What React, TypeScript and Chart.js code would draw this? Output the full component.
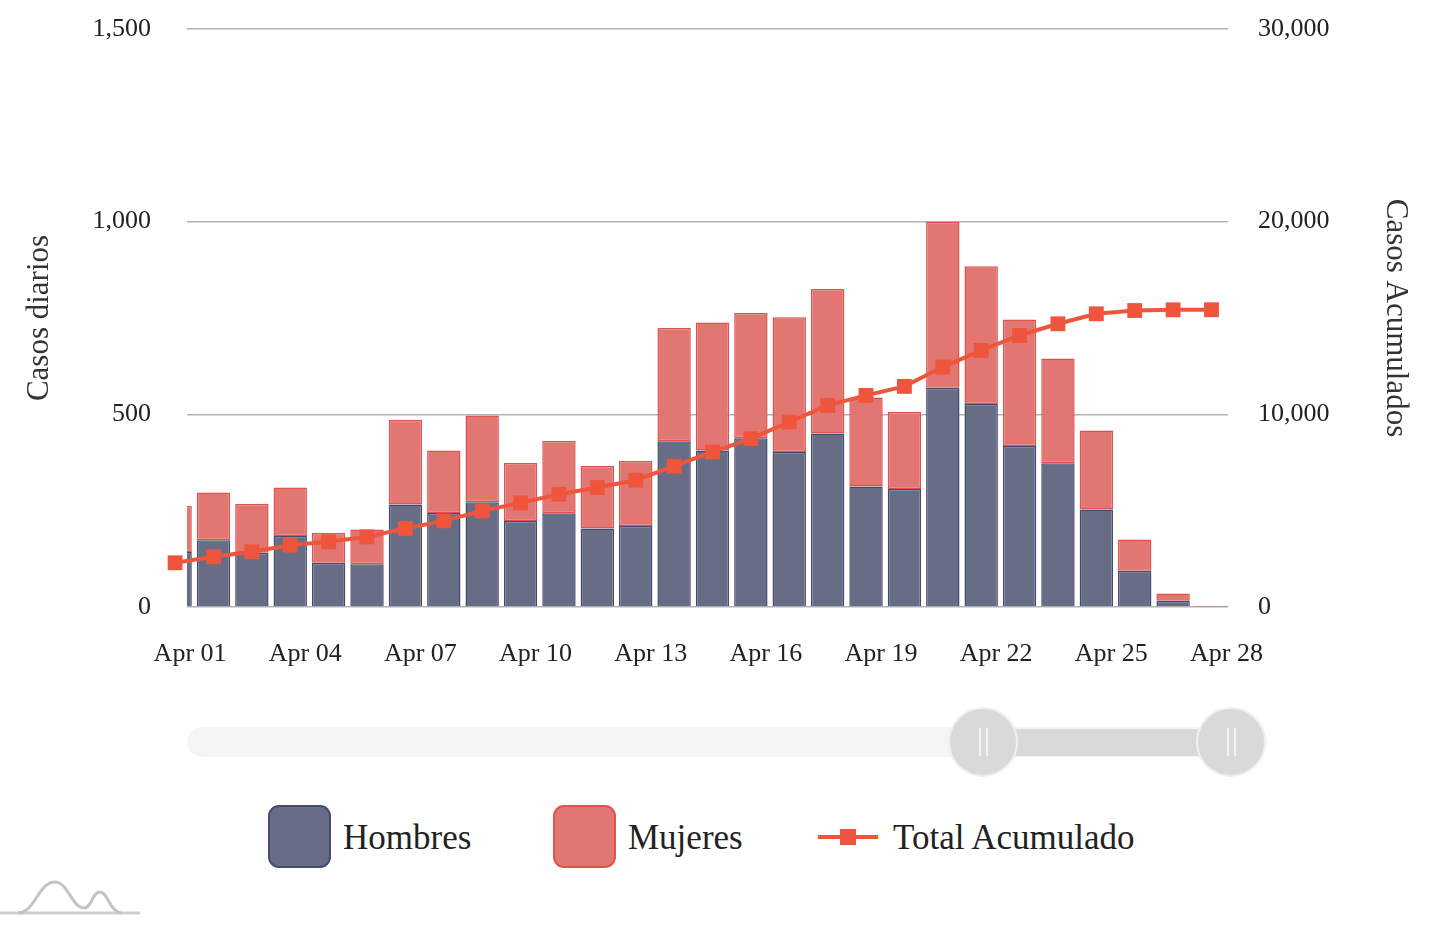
import React, { useEffect, useRef } from "react";
import { Chart, registerables } from "chart.js";

Chart.register(...registerables);

// ---- data ----
const dates = [
  "Mar 31", "Apr 01", "Apr 02", "Apr 03", "Apr 04", "Apr 05", "Apr 06", "Apr 07",
  "Apr 08", "Apr 09", "Apr 10", "Apr 11", "Apr 12", "Apr 13", "Apr 14", "Apr 15",
  "Apr 16", "Apr 17", "Apr 18", "Apr 19", "Apr 20", "Apr 21", "Apr 22", "Apr 23",
  "Apr 24", "Apr 25", "Apr 26", "Apr 27",
];
const hombres = [
  143, 173, 141, 184, 115, 111, 266, 244, 272, 223, 243, 204, 210, 430, 406, 438,
  402, 450, 313, 306, 569, 527, 418, 373, 253, 94, 16, 1,
];
const mujeres = [
  119, 124, 127, 126, 77, 90, 220, 162, 225, 151, 188, 162, 169, 295, 332, 325,
  350, 375, 231, 200, 431, 357, 328, 272, 205, 81, 19, 2,
];
const totalAcumulado = [
  2295, 2606, 2865, 3212, 3383, 3642, 4076, 4472, 4990, 5404, 5855, 6200, 6580, 7306,
  8047, 8740, 9603, 10466, 10984, 11451, 12453, 13316, 14093, 14699, 15218, 15389,
  15424, 15430,
];
const xTickDays = [1, 4, 7, 10, 13, 16, 19, 22, 25, 28];
const xTickLabels = [
  "Apr 01", "Apr 04", "Apr 07", "Apr 10", "Apr 13", "Apr 16", "Apr 19", "Apr 22",
  "Apr 25", "Apr 28",
];
const leftTicks = [0, 500, 1000, 1500];
const rightTicks = [0, 10000, 20000, 30000];

const FONT = "'Liberation Serif', 'Times New Roman', serif";
const C_HOMBRES = "#666d85";
const C_HOMBRES_B = "#434b70";
const C_MUJERES = "#e17673";
const C_MUJERES_B = "#e0534d";
const C_LINE = "#ef553c";
const TICK_SHIFT = 0.61; // day boundary offset of the axis labels

function ChartCanvas() {
  const ref = useRef<HTMLCanvasElement | null>(null);
  useEffect(() => {
    if (!ref.current) return;
    const chart = new Chart(ref.current, {
      type: "bar",
      data: {
        labels: dates,
        datasets: [
          {
            type: "line",
            label: "Total Acumulado",
            data: totalAcumulado.map((v, i) => ({ x: i, y: v })),
            yAxisID: "y1",
            borderColor: C_LINE,
            backgroundColor: C_LINE,
            borderWidth: 4,
            pointStyle: "rect",
            pointRadius: 10.5,
            pointHoverRadius: 16,
            pointBorderWidth: 0,
            tension: 0,
            clip: false as any,
            order: 0,
          } as any,
          {
            label: "Hombres",
            data: hombres.map((v, i) => ({ x: i, y: v })),
            backgroundColor: C_HOMBRES,
            borderColor: C_HOMBRES_B,
            borderWidth: 1.5,
            borderSkipped: "start",
            stack: "a",
            yAxisID: "y",
            barPercentage: 0.87,
            categoryPercentage: 1,
            order: 1,
          },
          {
            label: "Mujeres",
            data: mujeres.map((v, i) => ({ x: i, y: v })),
            backgroundColor: C_MUJERES,
            borderColor: C_MUJERES_B,
            borderWidth: 1.5,
            borderSkipped: false,
            stack: "a",
            yAxisID: "y",
            barPercentage: 0.87,
            categoryPercentage: 1,
            order: 2,
          },
        ],
      },
      options: {
        responsive: false,
        maintainAspectRatio: false,
        animation: false,
        events: [],
        layout: { padding: { top: 29, bottom: 0, left: 0, right: 0 } },
        plugins: {
          legend: { display: false },
          tooltip: { enabled: false },
        },
        scales: {
          x: {
            type: "linear",
            stacked: true,
            offset: false,
            min: 0.31,
            max: 27.43,
            grid: { display: false, drawTicks: false, offset: false },
            border: { display: false },
            afterBuildTicks: (scale: any) => {
              scale.ticks = xTickDays.map((d) => ({ value: d - TICK_SHIFT }));
            },
            afterFit: (scale: any) => {
              scale.height = 93;
            },
            ticks: {
              autoSkip: false,
              maxRotation: 0,
              padding: 32,
              color: "#222",
              font: { family: FONT, size: 26 },
              callback: (_v: any, i: number) => xTickLabels[i],
            },
          },
          y: {
            position: "left",
            stacked: true,
            min: 0,
            max: 1500,
            afterBuildTicks: (scale: any) => {
              scale.ticks = leftTicks.map((v) => ({ value: v }));
            },
            afterFit: (scale: any) => {
              scale.width = 187;
            },
            grid: {
              color: "rgba(0,0,0,0.3)",
              lineWidth: 1.5,
              drawTicks: true,
              tickLength: 36,
              tickColor: "rgba(0,0,0,0)",
            },
            border: { display: false },
            ticks: {
              padding: 0,
              color: "#222",
              font: { family: FONT, size: 26 },
              callback: (v: any) => Number(v).toLocaleString("en-US"),
            },
            title: {
              display: true,
              text: "Casos diarios",
              color: "#333",
              font: { family: FONT, size: 31 },
              padding: { top: 21, bottom: 0 },
            },
          },
          y1: {
            position: "right",
            min: 0,
            max: 30000,
            afterBuildTicks: (scale: any) => {
              scale.ticks = rightTicks.map((v) => ({ value: v }));
            },
            afterFit: (scale: any) => {
              scale.width = 218;
            },
            grid: {
              display: true,
              drawOnChartArea: false,
              drawTicks: true,
              tickLength: 30,
              tickColor: "rgba(0,0,0,0)",
            },
            border: { display: false },
            ticks: {
              padding: 0,
              color: "#222",
              font: { family: FONT, size: 26 },
              callback: (v: any) => Number(v).toLocaleString("en-US"),
            },
            title: {
              display: true,
              text: "Casos Acumulados",
              color: "#333",
              font: { family: FONT, size: 31 },
              padding: { top: 32, bottom: 0 },
            },
          },
        },
      } as any,
    });
    return () => chart.destroy();
  }, []);
  return (
    <canvas
      ref={ref}
      width={1446}
      height={700}
      style={{ position: "absolute", left: 0, top: 0, width: 1446, height: 700 }}
    />
  );
}

function Grip({ cx }: { cx: number }) {
  return (
    <div
      style={{
        position: "absolute",
        left: cx - 35,
        top: 742 - 35,
        width: 70,
        height: 70,
        borderRadius: "50%",
        background: "#d9d9d9",
        boxSizing: "border-box",
        border: "2px solid #f0f0f0",
      }}
    >
      <div style={{ position: "absolute", left: 29, top: 19, width: 2, height: 28, background: "#f4f4f4" }} />
      <div style={{ position: "absolute", left: 36, top: 19, width: 2, height: 28, background: "#f4f4f4" }} />
    </div>
  );
}

function LegendSwatch({ left, color, border }: { left: number; color: string; border: string }) {
  return (
    <div
      style={{
        position: "absolute",
        left,
        top: 805,
        width: 63,
        height: 63,
        borderRadius: 11,
        background: color,
        boxSizing: "border-box",
        border: `2.5px solid ${border}`,
      }}
    />
  );
}

const legendText: React.CSSProperties = {
  position: "absolute",
  top: 818,
  fontFamily: FONT,
  fontSize: 35,
  lineHeight: "40px",
  color: "#222",
  whiteSpace: "nowrap",
};

export default function App() {
  return (
    <div
      style={{
        position: "fixed",
        left: 0,
        top: 0,
        width: 1446,
        height: 932,
        background: "#fff",
        overflow: "hidden",
      }}
    >
      <ChartCanvas />
      {/* scrollbar */}
      <div
        style={{
          position: "absolute",
          left: 187,
          top: 727,
          width: 1080,
          height: 30,
          borderRadius: 15,
          background: "#f5f5f5",
        }}
      />
      <div
        style={{
          position: "absolute",
          left: 983,
          top: 729,
          width: 248,
          height: 27,
          background: "#d9d9d9",
        }}
      />
      <Grip cx={983} />
      <Grip cx={1231} />
      {/* legend */}
      <LegendSwatch left={268} color={C_HOMBRES} border={C_HOMBRES_B} />
      <div style={{ ...legendText, left: 343 }}>Hombres</div>
      <LegendSwatch left={553} color={C_MUJERES} border={C_MUJERES_B} />
      <div style={{ ...legendText, left: 628 }}>Mujeres</div>
      <div style={{ position: "absolute", left: 818, top: 835, width: 60, height: 4, background: C_LINE }} />
      <div style={{ position: "absolute", left: 840, top: 829, width: 16, height: 16, background: C_LINE }} />
      <div style={{ ...legendText, left: 893 }}>Total Acumulado</div>
      {/* logo */}
      <svg
        style={{ position: "absolute", left: 0, top: 870, width: 150, height: 50 }}
        width={150}
        height={50}
      >
        <path d="M0,43 L140,43" stroke="#cfcfcf" strokeWidth={3} fill="none" />
        <path
          d="M18,43 C35,43 38,12 55,12 C68,12 72,38 84,38 C92,38 92,22 100,22 C108,22 110,43 122,43"
          stroke="#c4c4c4"
          strokeWidth={3}
          fill="none"
        />
      </svg>
    </div>
  );
}
